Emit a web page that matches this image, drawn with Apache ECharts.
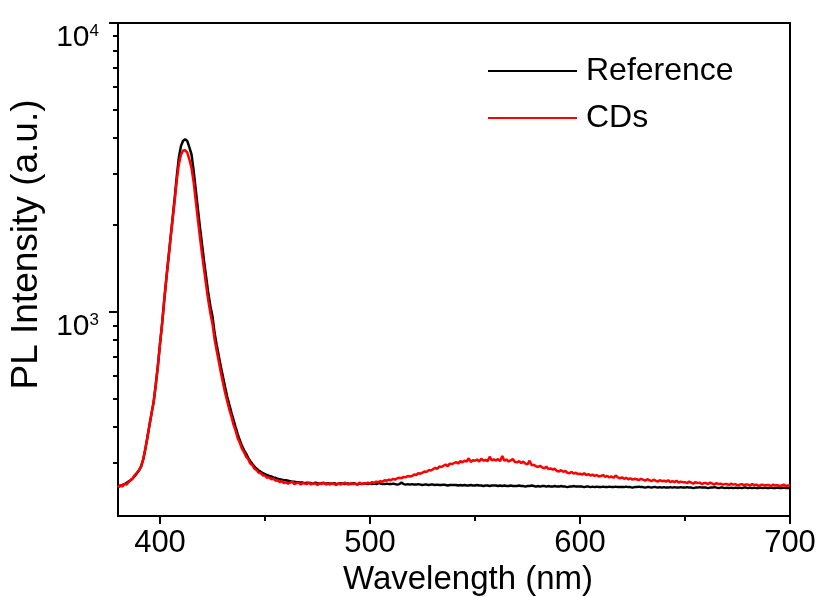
<!DOCTYPE html>
<html><head><meta charset="utf-8">
<script src="https://cdn.jsdelivr.net/npm/echarts@6/dist/echarts.min.js"></script>
<style>html,body{margin:0;padding:0;background:#fff}#c{width:823px;height:597px}</style>
</head><body><div id="c"></div>
<script>
const wavelengthStart = 380; // nm, one value per nm
const seriesNames = ['Reference', 'CDs'];
const referenceIntensity = [
248,250,252,254,256,259,262,266,271,277,
283,292,309,335,369,407,447,490,562,653,
776,912,1096,1303,1531,1799,2113,2483,2951,3428,
3758,3917,3963,3900,3715,3510,3090,2660,2290,1972,
1718,1496,1318,1161,1047,966,846,769,705,646,
596,550,509,479,449,424,400,378,360,345,
333,324,313,305,298,292,287,283,280,277,
275,273,271,270,268,267,265,264,263,262,
262,261,260,259,259,258,258,257,257,256,
257,256,256,255,257,256,255,256,256,255,
256,255,255,256,254,255,256,255,254,255,
255,254,256,255,254,255,254,255,255,254,
255,254,255,254,256,255,254,254,255,254,
254,255,254,253,254,257,254,253,254,253,
254,253,253,254,253,252,253,253,252,253,
253,252,253,252,252,253,252,251,252,252,
252,252,251,252,251,252,251,251,252,251,
251,252,251,251,250,251,251,250,251,251,
251,250,251,250,251,250,250,251,250,250,
250,251,250,250,249,250,250,251,250,249,
250,249,250,250,249,250,249,249,250,249,
249,250,249,249,248,249,249,250,249,249,
249,249,248,249,249,248,249,248,249,248,
248,249,248,248,249,248,248,249,248,248,
248,248,249,248,248,247,248,248,249,248,
248,247,248,248,247,248,248,247,248,247,
248,247,247,248,247,248,247,247,248,247,
247,248,247,247,246,247,247,248,247,247,
247,246,247,247,248,247,246,247,247,246,
247,246,247,246,247,246,247,246,247,247,
246,247,246,247,246,246,247,246,247,246,
246,247,246,246,247,246,246,247,246,246,
246
];
const cdsIntensity = [
247,252,249,254,253,258,262,266,273,278,
284,293,309,336,368,407,447,489,561,652,
774,910,1093,1300,1527,1790,2090,2430,2860,3250,
3500,3620,3630,3560,3370,3150,2820,2440,2100,1820,
1590,1400,1235,1095,990,910,805,735,675,617,
570,526,492,460,436,408,389,366,353,337,
328,316,310,299,295,287,284,278,277,272,
272,267,268,264,265,261,262,258,260,256,
258,255,257,259,254,256,257,253,256,255,
254,257,253,256,255,252,256,254,257,253,
255,253,256,254,252,256,253,255,257,254,
253,256,254,255,252,257,254,256,255,257,
255,258,256,259,258,260,259,262,261,263,
262,265,263,266,267,266,269,268,271,270,
271,274,273,277,276,278,281,280,284,283,
286,289,287,292,291,294,297,293,299,298,
300,303,299,305,302,306,304,312,303,307,
306,309,304,311,306,308,305,316,307,309,
307,310,305,318,306,309,304,307,310,303,
302,305,300,304,299,297,306,295,296,293,
291,294,290,288,292,286,288,285,287,282,
281,284,280,282,278,277,280,276,278,275,
276,274,277,273,275,272,274,271,273,270,
271,273,269,271,268,270,267,272,268,266,
268,265,267,264,266,263,265,264,262,265,
263,261,264,262,260,263,261,259,262,260,
261,259,262,258,260,258,261,257,259,258,
258,256,259,257,255,258,256,257,254,256,
256,254,257,255,253,256,254,255,253,254,
254,252,255,253,254,251,253,254,252,253,
253,251,254,252,253,250,252,253,251,252,
252,250,253,251,252,250,251,253,250,251,
251
];
const xRange = [380, 700];
const xMajorTicks = [400, 500, 600, 700];
const xMinorTicks = [450, 550, 650];
const yRange = [197, 10000];
const yMajorTicks = [1000, 10000];
const yMinorTicks = [300, 400, 500, 600, 700, 800, 900, 2000, 3000, 4000, 5000, 6000, 7000, 8000, 9000];

const FONT = "'Liberation Sans', Arial, sans-serif";
const toPairs = arr => arr.map((v, i) => [wavelengthStart + i, v]);

const chart = echarts.init(document.getElementById('c'), null, {renderer: 'canvas'});
const baseX = {
  type: 'value', min: xRange[0], max: xRange[1], position: 'bottom',
  splitLine: {show: false}
};
const baseY = {
  type: 'log', logBase: 10, min: yRange[0], max: yRange[1], position: 'left',
  splitLine: {show: false}
};
chart.setOption({
  animation: false,
  backgroundColor: '#fff',
  textStyle: {fontFamily: FONT},
  grid: {left: 118, right: 33, top: 23, bottom: 81, show: true, borderColor: '#000', borderWidth: 2,
         containLabel: false, outerBoundsMode: 'none'},
  legend: {
    data: seriesNames, orient: 'vertical', left: 488, top: 55, padding: 0,
    icon: 'rect', itemWidth: 89, itemHeight: 2, itemGap: 15,
    textStyle: {fontSize: 32, color: '#000', fontFamily: FONT, padding: [0, 0, 0, 4]}
  },
  xAxis: [
    Object.assign({}, baseX, {
      name: 'Wavelength (nm)', nameLocation: 'middle', nameGap: 41,
      nameTextStyle: {fontSize: 33, color: '#000', fontFamily: FONT, padding: [0, 0, 0, 28]},
      axisLine: {show: true, onZero: false, lineStyle: {color: '#000', width: 2}},
      axisTick: {show: true, inside: false, length: 8, lineStyle: {color: '#000', width: 2}, customValues: xMajorTicks},
      axisLabel: {show: true, customValues: xMajorTicks, fontSize: 31, color: '#000', margin: 12, fontFamily: FONT}
    }),
    Object.assign({}, baseX, {
      axisLine: {show: false, onZero: false},
      axisTick: {show: true, inside: false, length: 5, lineStyle: {color: '#000', width: 2}, customValues: xMinorTicks},
      axisLabel: {show: false}
    })
  ],
  yAxis: [
    Object.assign({}, baseY, {
      name: 'PL Intensity (a.u.)', nameLocation: 'middle', nameGap: 71,
      nameTextStyle: {fontSize: 37, color: '#000', fontFamily: FONT, padding: [0, 0, 0, 50]},
      axisLine: {show: true, onZero: false, lineStyle: {color: '#000', width: 2}},
      axisTick: {show: true, inside: false, length: 9, lineStyle: {color: '#000', width: 2}, customValues: yMajorTicks},
      axisLabel: {
        show: true, customValues: yMajorTicks, margin: 19, verticalAlign: 'top',
        formatter: v => '{b|10}{s|' + Math.round(Math.log10(v)) + '}',
        rich: {
          b: {fontSize: 30, color: '#000', fontFamily: FONT, lineHeight: 30},
          s: {fontSize: 17, color: '#000', fontFamily: FONT, verticalAlign: 'top', lineHeight: 17}
        }
      }
    }),
    Object.assign({}, baseY, {
      axisLine: {show: false, onZero: false},
      axisTick: {show: true, inside: false, length: 5, lineStyle: {color: '#000', width: 2}, customValues: yMinorTicks},
      axisLabel: {show: false}
    })
  ],
  series: [
    {name: seriesNames[0], type: 'line', data: toPairs(referenceIntensity), showSymbol: false, symbol: 'none',
     lineStyle: {color: '#000', width: 2.5}, itemStyle: {color: '#000'}, xAxisIndex: 0, yAxisIndex: 0, z: 2},
    {name: seriesNames[1], type: 'line', data: toPairs(cdsIntensity), showSymbol: false, symbol: 'none',
     lineStyle: {color: '#ff0000', width: 2.5}, itemStyle: {color: '#ff0000'}, xAxisIndex: 0, yAxisIndex: 0, z: 3}
  ]
});
</script></body></html>
